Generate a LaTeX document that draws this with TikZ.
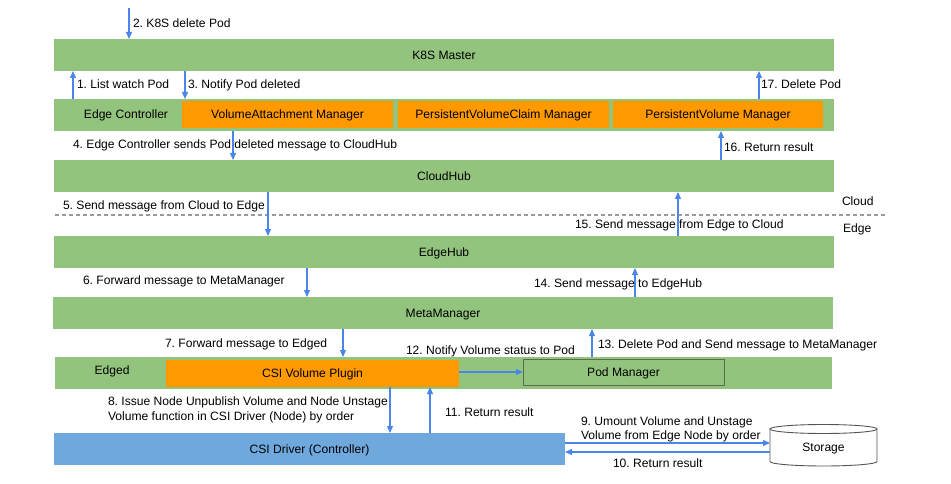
\documentclass[tikz,border=0pt]{standalone}
\usepackage{fontspec}
\setmainfont{Liberation Sans}
\usetikzlibrary{arrows.meta}
\definecolor{kgreen}{HTML}{93C47D}
\definecolor{korange}{HTML}{FF9900}
\definecolor{kblue}{HTML}{6FA8DC}
\definecolor{karrow}{HTML}{4A86E8}
\definecolor{kdash}{HTML}{999999}
\definecolor{kborder}{HTML}{5B6B52}
\definecolor{kcyl}{HTML}{555555}
\begin{document}
\frenchspacing
\begin{tikzpicture}[x=1pt,y=-1pt,
  font=\fontsize{12.1}{14.5}\selectfont,
  bar/.style={fill=kgreen, draw=none, inner sep=0pt, outer sep=0pt, text height=8.7pt, text depth=0pt},
  obox/.style={fill=korange, draw=none, inner sep=0pt, outer sep=0pt, minimum height=27pt, text height=8.7pt, text depth=0pt},
  lbl/.style={anchor=base west, inner sep=0pt, outer sep=0pt},
  arr/.style={draw=karrow, line width=1.2pt, -{Triangle[length=7pt,width=6pt]}},
]
\useasboundingbox (0,0) rectangle (951,484);
% bars
\node[bar, minimum width=780pt, minimum height=32pt] (k8s) at (444,55) {K8S Master};
\node[bar, minimum width=780pt, minimum height=32pt] (ec) at (444,115) {};
\node[inner sep=0pt, text height=8.7pt, text depth=0pt] (ectxt) at (126,114.5) {Edge Controller};
\node[obox, minimum width=211pt] (vam) at (287.5,114.5) {VolumeAttachment Manager};
\node[obox, minimum width=211pt] (pvc) at (503.5,114.5) {PersistentVolumeClaim Manager};
\node[obox, minimum width=210pt] (pv) at (718,114.5) {PersistentVolume Manager};
\node[bar, minimum width=780pt, minimum height=32pt] (ch) at (444,176) {CloudHub};
\node[bar, minimum width=780pt, minimum height=32pt] (eh) at (444,252) {EdgeHub};
\node[bar, minimum width=780pt, minimum height=32pt] (mm) at (443,313) {MetaManager};
\node[bar, minimum width=777pt, minimum height=32pt] (ed) at (443.5,373) {};
\node[inner sep=0pt, text height=8.7pt, text depth=0pt] (edtxt) at (112,370.5) {Edged};
\node[obox, minimum width=293pt] (csip) at (312.5,373.5) {CSI Volume Plugin};
\node[bar, draw=kborder, line width=1pt, minimum width=201pt, minimum height=26pt] (pm) at (623.5,372) {Pod Manager};
\node[bar, fill=kblue, minimum width=511pt, minimum height=32pt] (drv) at (309.5,449) {CSI Driver (Controller)};
% storage
\node[inner sep=0pt, outer sep=0pt, minimum width=107pt, minimum height=41pt] (sto) at (823.5,445.5) {};
\draw[kcyl, line width=0.9pt, fill=white] (sto.west |- 0,429) -- (sto.west |- 0,461.5)
  arc[start angle=180, end angle=360, x radius=53.5pt, y radius=4.5pt] -- (sto.east |- 0,429);
\draw[kcyl, line width=0.9pt, fill=white] (sto.north |- 0,429) ellipse[x radius=53.5pt, y radius=4.5pt];
\node[inner sep=0pt, text height=8.7pt, text depth=0pt] (stotxt) at (823.5,447.5) {Storage};
% dashed separator
\coordinate (dl) at (55,215);
\coordinate (dr) at (885,215);
\draw[kdash, line width=1.2pt, dash pattern=on 4pt off 3pt] (dl) -- (dr);
\node[lbl] (cloud) at (842,206) {Cloud};
\node[lbl] (edge) at (843,232) {Edge};
% arrow x positions
\coordinate (x2) at (129,8);
\coordinate (x1) at (73,0);
\coordinate (x3) at (185,0);
\coordinate (x17) at (759,0);
\coordinate (x4) at (233,0);
\coordinate (x16) at (721,0);
\coordinate (x5) at (268,0);
\coordinate (x15) at (678,0);
\coordinate (x6) at (307,0);
\coordinate (x14) at (635,0);
\coordinate (x7) at (343,0);
\coordinate (x13) at (592,0);
\coordinate (x8) at (390,0);
\coordinate (x11) at (430,0);
% arrows
\draw[arr] (x2) -- (k8s.north -| x2);
\draw[arr] (ec.north -| x1) -- (k8s.south -| x1);
\draw[arr] (k8s.south -| x3) -- (ec.north -| x3);
\draw[arr] (ec.north -| x17) -- (k8s.south -| x17);
\draw[arr] (ec.south -| x4) -- (ch.north -| x4);
\draw[arr] (ch.north -| x16) -- (ec.south -| x16);
\draw[arr] (ch.south -| x5) -- (eh.north -| x5);
\draw[arr] (eh.north -| x15) -- (ch.south -| x15);
\draw[arr] (eh.south -| x6) -- (mm.north -| x6);
\draw[arr] (mm.north -| x14) -- (eh.south -| x14);
\draw[arr] (mm.south -| x7) -- (ed.north -| x7);
\draw[arr] (ed.north -| x13) -- (mm.south -| x13);
\draw[arr] (pm.west -| csip.east) -- (pm.west);
\draw[arr] (csip.south -| x8) -- (drv.north -| x8);
\draw[arr] (drv.north -| x11) -- (csip.south -| x11);
\draw[arr] ([yshift=6pt]drv.east) -- ([yshift=6pt]drv.east -| sto.west);
\draw[arr] ([yshift=-3pt]drv.east -| sto.west) -- ([yshift=-3pt]drv.east);
% labels
\node[lbl] (l2) at (133,27.3) {2. K8S delete Pod};
\node[lbl] (l1) at (77,89) {1. List watch Pod};
\node[lbl] (l3) at (188,89) {3. Notify Pod deleted};
\node[lbl] (l17) at (761,89) {17. Delete Pod};
\node[lbl] (l4) at (73,149) {4. Edge Controller sends Pod deleted message to CloudHub};
\node[lbl] (l16) at (724,152) {16. Return result};
\node[lbl] (l5) at (63,209) {5. Send message from Cloud to Edge};
\node[lbl] (l15) at (575,229) {15. Send message from Edge to Cloud};
\node[lbl] (l6) at (83,284) {6. Forward message to MetaManager};
\node[lbl] (l14) at (534,287) {14. Send message to EdgeHub};
\node[lbl] (l7) at (165,347) {7. Forward message to Edged};
\node[lbl] (l13) at (598,348) {13. Delete Pod and Send message to MetaManager};
\node[lbl] (l12) at (406,354) {12. Notify Volume status to Pod};
\node[lbl] (l8a) at (108,405.5) {8. Issue Node Unpublish Volume and Node Unstage};
\node[lbl] (l8b) at (108,420) {Volume function in CSI Driver (Node) by order};
\node[lbl] (l11) at (445,416) {11. Return result};
\node[lbl] (l9a) at (581,425) {9. Umount Volume and Unstage};
\node[lbl] (l9b) at (581,439) {Volume from Edge Node by order};
\node[lbl] (l10) at (613,467) {10. Return result};
\end{tikzpicture}
\end{document}
